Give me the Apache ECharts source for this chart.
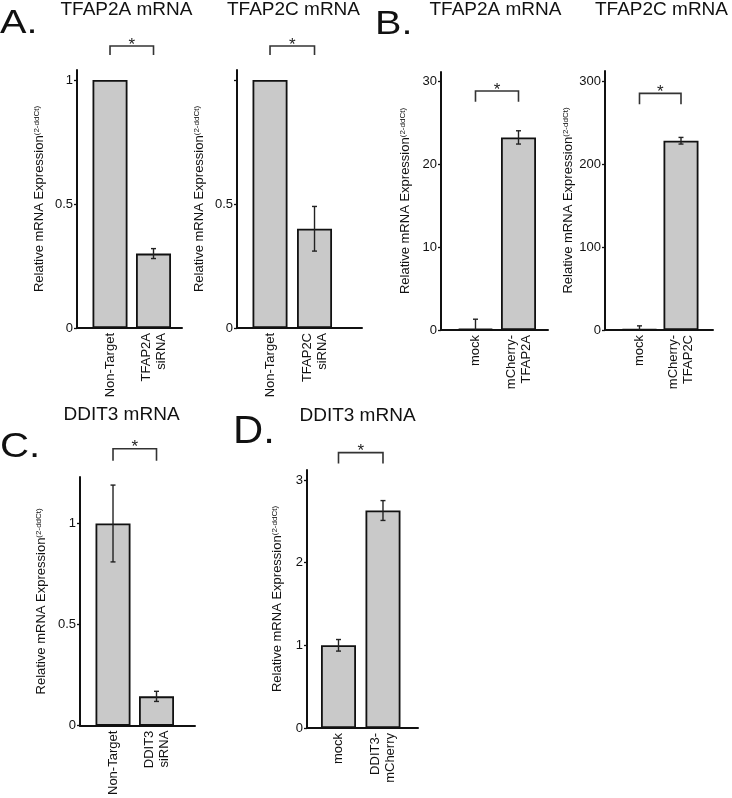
<!DOCTYPE html>
<html><head><meta charset="utf-8">
<script src="https://cdn.jsdelivr.net/npm/echarts@6/dist/echarts.min.js"></script>
<style>html,body{margin:0;padding:0;background:#fff}#c{width:732px;height:798px}</style>
</head><body><div id="c"></div>
<script>
// ---- data ----
const a1Categories = ['Non-Target', 'TFAP2A\nsiRNA'];
const a1Values = [1.0, 0.30];
const a1Errors = [0, 0.02];
const a2Categories = ['Non-Target', 'TFAP2C\nsiRNA'];
const a2Values = [1.0, 0.40];
const a2Errors = [0, 0.09];
const b1Categories = ['mock', 'mCherry-\nTFAP2A'];
const b1Values = [0.15, 23.2];
const b1Errors = [1.15, 0.8];
const b2Categories = ['mock', 'mCherry-\nTFAP2C'];
const b2Values = [1.0, 228];
const b2Errors = [4, 4];
const cCategories = ['Non-Target', 'DDIT3\nsiRNA'];
const cValues = [1.0, 0.145];
const cErrors = [0.19, 0.025];
const dCategories = ['mock', 'DDIT3-\nmCherry'];
const dValues = [1.0, 2.63];
const dErrors = [0.07, 0.12];

const a1Ticks = [0, 0.5, 1], a1TickLabels = [0, 0.5, 1];
const a2Ticks = [0, 0.5, 1], a2TickLabels = [0, 0.5];
const b1Ticks = [0, 10, 20, 30], b1TickLabels = [0, 10, 20, 30];
const b2Ticks = [0, 100, 200, 300], b2TickLabels = [0, 100, 200, 300];
const cTicks = [0, 0.5, 1], cTickLabels = [0, 0.5, 1];
const dTicks = [0, 1, 2, 3], dTickLabels = [0, 1, 2, 3];

const panelTitles = ['TFAP2A mRNA', 'TFAP2C mRNA', 'TFAP2A mRNA', 'TFAP2C mRNA', 'DDIT3 mRNA', 'DDIT3 mRNA'];
const panelLetters = ['A.', 'B.', 'C.', 'D.'];
const yName = '{a|Relative mRNA Expression}{b|(2-ddCt)}';

// ---- layout ----
const FONT = '"Liberation Sans", Arial, Helvetica, sans-serif';
const panels = [
  {cats:a1Categories, vals:a1Values, errs:a1Errors, ticks:a1Ticks, labels:a1TickLabels,
   grid:{left:77, top:70, width:105, height:258}, yMax:1.04, xMin:0.241, xMax:2.655, gap:31, sig:[1.10,1.137], t:[126.5,9.5]},
  {cats:a2Categories, vals:a2Values, errs:a2Errors, ticks:a2Ticks, labels:a2TickLabels,
   grid:{left:237, top:70, width:125, height:258}, yMax:1.04, xMin:0.258, xMax:3.067, gap:31, sig:[1.10,1.137], t:[293.5,9.5]},
  {cats:b1Categories, vals:b1Values, errs:b1Errors, ticks:b1Ticks, labels:b1TickLabels,
   grid:{left:441, top:72, width:107, height:258}, yMax:31.08, xMin:0.198, xMax:2.686, gap:29, sig:[27.5,28.8], t:[495.5,9.5]},
  {cats:b2Categories, vals:b2Values, errs:b2Errors, ticks:b2Ticks, labels:b2TickLabels,
   grid:{left:605, top:71, width:108, height:259}, yMax:312, xMin:0.169, xMax:2.771, gap:30, sig:[272,285], t:[661.5,9.5]},
  {cats:cCategories, vals:cValues, errs:cErrors, ticks:cTicks, labels:cTickLabels,
   grid:{left:80, top:477, width:115, height:251}, yMax:1.23, xMin:0.241, xMax:2.885, gap:32, sig:[1.31,1.37], t:[121.5,415]},
  {cats:dCategories, vals:dValues, errs:dErrors, ticks:dTicks, labels:dTickLabels,
   grid:{left:307, top:470, width:111, height:258}, yMax:3.12, xMin:0.292, xMax:2.787, gap:23, sig:[3.20,3.33], t:[357.5,416]}
];
const letterPos = [[0,24,33,1.2],[375,25,33,1.2],[0,447.5,35,1.15],[233,432.5,38,1.1]];

const grids = [], xAxes = [], yAxes = [], series = [], graphics = [];
panels.forEach((p, i) => {
  grids.push(Object.assign({containLabel:false}, p.grid));
  xAxes.push({
    type:'value', gridIndex:i, min:p.xMin, max:p.xMax,
    axisLine:{show:true, onZero:false, lineStyle:{color:'#111', width:2}},
    axisTick:{show:false}, splitLine:{show:false},
    axisLabel:{customValues:[1,2], rotate:90, margin:5, fontSize:13, lineHeight:15,
      color:'#111', fontFamily:FONT, align:'right',
      formatter:(v)=>p.cats[Math.round(v)-1] || ''}
  });
  yAxes.push({
    type:'value', gridIndex:i, min:0, max:p.yMax,
    name:yName, nameLocation:'middle', nameRotate:90, nameGap:p.gap,
    nameTextStyle:{fontFamily:FONT, color:'#111',
      rich:{a:{fontSize:13, fontFamily:FONT, color:'#111'},
            b:{fontSize:8, fontFamily:FONT, color:'#111', verticalAlign:'top'}}},
    axisLine:{show:true, onZero:false, lineStyle:{color:'#111', width:2}},
    axisTick:{show:true, length:3, customValues:p.ticks, lineStyle:{color:'#111', width:1.3}},
    splitLine:{show:false},
    axisLabel:{customValues:p.labels, margin:4, fontSize:13, color:'#111', fontFamily:FONT}
  });
  series.push({
    type:'bar', xAxisIndex:i, yAxisIndex:i, barWidth:35,
    data:p.vals.map((v,k)=>[k+1, v]),
    itemStyle:{color:'#c9c9c9', borderColor:'#111', borderWidth:1.8}
  });
  series.push({
    type:'custom', xAxisIndex:i, yAxisIndex:i, z:10,
    data:p.vals.map((v,k)=>[k+1, v, p.errs[k]]),
    encode:{x:0, y:1},
    renderItem:(params, api)=>{
      const x = api.value(0), v = api.value(1), e = api.value(2);
      if (!e) return null;
      const lo = Math.max(0, v - e);
      const top = api.coord([x, v + e]), bot = api.coord([x, lo]);
      const w = 2.5, st = {stroke:'#222', lineWidth:1.4};
      const ch = [
        {type:'line', shape:{x1:top[0], y1:top[1], x2:bot[0], y2:bot[1]}, style:st},
        {type:'line', shape:{x1:top[0]-w, y1:top[1], x2:top[0]+w, y2:top[1]}, style:st}
      ];
      if (v - e > 0) ch.push({type:'line', shape:{x1:bot[0]-w, y1:bot[1], x2:bot[0]+w, y2:bot[1]}, style:st});
      return {type:'group', children:ch};
    }
  });
  series.push({
    type:'custom', xAxisIndex:i, yAxisIndex:i, z:10, clip:false,
    data:[[1, 2, p.sig[0], p.sig[1]]],
    encode:{x:[0,1], y:[2,3]},
    renderItem:(params, api)=>{
      const lo = api.value(2), hi = api.value(3);
      const a = api.coord([api.value(0), lo]), b = api.coord([api.value(0), hi]);
      const c = api.coord([api.value(1), hi]), d = api.coord([api.value(1), lo]);
      return {type:'group', children:[
        {type:'polyline', shape:{points:[a,b,c,d]}, style:{stroke:'#333', lineWidth:1.6, fill:null}},
        {type:'text', x:(b[0]+c[0])/2, y:b[1] - 1, style:{text:'*', fontSize:17, fontFamily:FONT, fill:'#222', align:'center', verticalAlign:'middle'}}
      ]};
    }
  });
  graphics.push({type:'text', x:p.t[0], y:p.t[1], style:{text:panelTitles[i], fontSize:19, fontFamily:FONT, fill:'#111', align:'center', verticalAlign:'middle'}});
});
panelLetters.forEach((L, k)=>{
  const lp = letterPos[k];
  graphics.push({type:'text', x:lp[0], y:lp[1], scaleX:lp[3], style:{text:L, fontSize:lp[2], fontFamily:FONT, fill:'#111', align:'left', verticalAlign:'middle'}});
});

const chart = echarts.init(document.getElementById('c'), null, {renderer:'canvas'});
chart.setOption({
  animation:false, backgroundColor:'#fff',
  grid:grids, xAxis:xAxes, yAxis:yAxes, series:series, graphic:graphics
});
</script>
</body></html>
